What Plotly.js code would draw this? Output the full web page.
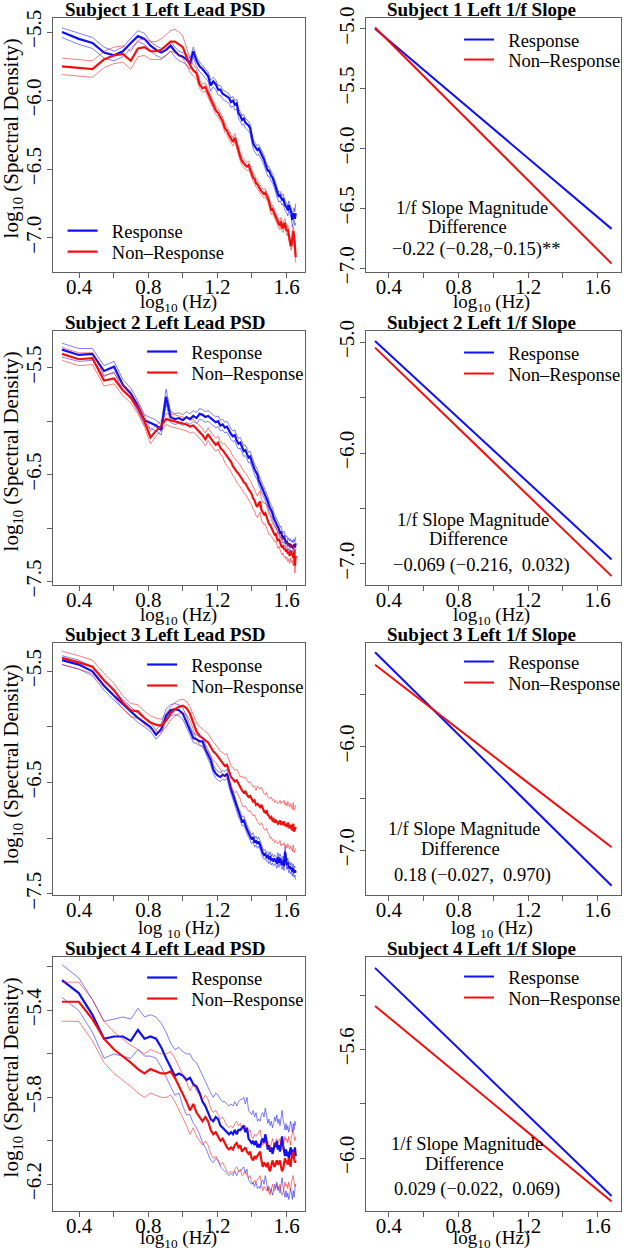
<!DOCTYPE html>
<html><head><meta charset="utf-8">
<script src="https://cdn.plot.ly/plotly-3.0.1.min.js"></script>
<style>html,body{margin:0;padding:0;background:#fff;}#chart{width:626px;height:1252px;}</style>
</head><body><div id="chart"></div>
<script>
// ---------- DATA ----------
const freqHz = [2,2.5,3,3.5,4,4.5,5,5.5,6,6.5,7,7.5,8,8.5,9,9.5,10,10.5,11,11.5,12,12.5,13,13.5,14,14.5,15,15.5,16,16.5,17,17.5,18,18.5,19,19.5,20,20.5,21,21.5,22,22.5,23,23.5,24,24.5,25,25.5,26,26.5,27,27.5,28,28.5,29,29.5,30,30.5,31,31.5,32,32.5,33,33.5,34,34.5,35,35.5,36,36.5,37,37.5,38,38.5,39,39.5,40,40.5,41,41.5,42,42.5,43,43.5,44,44.5,45];

// Subject 1
const s1RespMean = [-5.50,-5.55,-5.58,-5.65,-5.67,-5.64,-5.58,-5.53,-5.55,-5.60,
-5.63,-5.65,-5.63,-5.60,-5.64,-5.67,-5.68,-5.70,-5.73,-5.64,
-5.71,-5.75,-5.77,-5.80,-5.82,-5.89,-5.86,-5.88,-5.92,-5.92,
-5.95,-5.96,-5.97,-5.98,-6.01,-6.00,-6.03,-6.02,-6.09,-6.11,
-6.14,-6.13,-6.16,-6.17,-6.18,-6.20,-6.26,-6.31,-6.33,-6.35,
-6.36,-6.35,-6.37,-6.39,-6.42,-6.43,-6.46,-6.49,-6.51,-6.51,
-6.54,-6.55,-6.56,-6.58,-6.60,-6.63,-6.66,-6.69,-6.70,-6.69,
-6.71,-6.72,-6.71,-6.74,-6.76,-6.77,-6.78,-6.80,-6.76,-6.78,
-6.80,-6.82,-6.87,-6.85,-6.82,-6.86,-6.82];
const s1RespUp = [-5.47,-5.51,-5.54,-5.61,-5.64,-5.61,-5.55,-5.49,-5.51,-5.57,
-5.60,-5.62,-5.60,-5.57,-5.61,-5.64,-5.65,-5.67,-5.69,-5.61,
-5.68,-5.72,-5.74,-5.77,-5.79,-5.85,-5.83,-5.85,-5.89,-5.89,
-5.92,-5.93,-5.94,-5.95,-5.98,-5.97,-6.00,-5.99,-6.06,-6.08,
-6.11,-6.10,-6.13,-6.14,-6.15,-6.17,-6.23,-6.28,-6.30,-6.32,
-6.33,-6.32,-6.34,-6.36,-6.39,-6.40,-6.43,-6.46,-6.48,-6.48,
-6.51,-6.52,-6.53,-6.55,-6.57,-6.60,-6.63,-6.66,-6.67,-6.66,
-6.68,-6.69,-6.68,-6.71,-6.73,-6.74,-6.75,-6.77,-6.73,-6.75,
-6.77,-6.79,-6.83,-6.81,-6.78,-6.81,-6.75];
const s1RespLo = [-5.54,-5.59,-5.62,-5.69,-5.71,-5.68,-5.62,-5.57,-5.59,-5.64,
-5.67,-5.69,-5.67,-5.64,-5.68,-5.71,-5.72,-5.74,-5.77,-5.68,
-5.75,-5.79,-5.81,-5.84,-5.86,-5.93,-5.90,-5.92,-5.96,-5.96,
-5.99,-6.00,-6.01,-6.02,-6.05,-6.04,-6.07,-6.06,-6.13,-6.15,
-6.18,-6.17,-6.20,-6.21,-6.22,-6.24,-6.30,-6.35,-6.37,-6.39,
-6.40,-6.39,-6.41,-6.43,-6.46,-6.47,-6.50,-6.53,-6.55,-6.55,
-6.58,-6.59,-6.60,-6.62,-6.64,-6.67,-6.70,-6.73,-6.74,-6.73,
-6.75,-6.76,-6.75,-6.78,-6.80,-6.81,-6.82,-6.84,-6.80,-6.82,
-6.84,-6.86,-6.92,-6.90,-6.87,-6.91,-6.89];
const s1NonMean = [-5.75,-5.76,-5.77,-5.70,-5.67,-5.66,-5.71,-5.62,-5.61,-5.64,
-5.64,-5.63,-5.60,-5.57,-5.57,-5.59,-5.61,-5.68,-5.74,-5.78,
-5.80,-5.88,-5.91,-5.90,-5.95,-5.99,-6.03,-6.07,-6.09,-6.12,
-6.15,-6.20,-6.22,-6.25,-6.28,-6.30,-6.27,-6.32,-6.38,-6.41,
-6.44,-6.46,-6.47,-6.48,-6.47,-6.50,-6.54,-6.56,-6.57,-6.60,
-6.61,-6.63,-6.65,-6.66,-6.67,-6.68,-6.67,-6.69,-6.71,-6.73,
-6.77,-6.80,-6.79,-6.81,-6.83,-6.84,-6.86,-6.88,-6.90,-6.91,
-6.88,-6.92,-6.93,-6.90,-6.89,-6.93,-6.95,-6.94,-6.98,-7.02,
-7.05,-7.06,-7.00,-6.95,-6.98,-7.08,-7.14];
const s1NonUp = [-5.69,-5.70,-5.71,-5.64,-5.61,-5.60,-5.64,-5.56,-5.55,-5.57,
-5.57,-5.55,-5.52,-5.49,-5.48,-5.50,-5.53,-5.62,-5.69,-5.74,
-5.77,-5.85,-5.88,-5.87,-5.92,-5.96,-6.00,-6.04,-6.06,-6.09,
-6.12,-6.17,-6.19,-6.22,-6.25,-6.27,-6.24,-6.29,-6.35,-6.38,
-6.41,-6.43,-6.44,-6.45,-6.44,-6.47,-6.51,-6.53,-6.54,-6.57,
-6.58,-6.60,-6.62,-6.63,-6.64,-6.65,-6.64,-6.66,-6.68,-6.70,
-6.74,-6.77,-6.76,-6.78,-6.80,-6.81,-6.83,-6.85,-6.87,-6.88,
-6.85,-6.89,-6.90,-6.87,-6.86,-6.90,-6.92,-6.91,-6.95,-6.99,
-7.02,-7.03,-6.97,-6.92,-6.95,-7.04,-7.09];
const s1NonLo = [-5.81,-5.82,-5.83,-5.76,-5.73,-5.72,-5.77,-5.68,-5.67,-5.70,
-5.70,-5.70,-5.67,-5.64,-5.65,-5.67,-5.69,-5.74,-5.79,-5.82,
-5.84,-5.91,-5.94,-5.93,-5.98,-6.02,-6.06,-6.10,-6.12,-6.15,
-6.18,-6.23,-6.25,-6.28,-6.31,-6.33,-6.30,-6.35,-6.41,-6.44,
-6.47,-6.49,-6.50,-6.51,-6.50,-6.53,-6.57,-6.59,-6.60,-6.63,
-6.64,-6.66,-6.68,-6.69,-6.70,-6.71,-6.70,-6.72,-6.74,-6.76,
-6.80,-6.83,-6.82,-6.84,-6.86,-6.87,-6.89,-6.91,-6.93,-6.94,
-6.91,-6.95,-6.96,-6.93,-6.92,-6.96,-6.98,-6.97,-7.01,-7.05,
-7.08,-7.09,-7.03,-6.98,-7.01,-7.12,-7.18];

// Subject 2
const s2RespMean = [-5.33,-5.38,-5.37,-5.53,-5.49,-5.66,-5.74,-5.86,-5.99,-6.02,
-6.04,-6.08,-5.77,-5.96,-5.98,-5.97,-5.99,-5.96,-5.98,-5.95,
-5.97,-5.93,-5.94,-5.96,-5.95,-5.97,-5.99,-6.01,-6.00,-6.04,
-6.03,-6.06,-6.05,-6.09,-6.12,-6.14,-6.13,-6.18,-6.21,-6.20,
-6.25,-6.28,-6.27,-6.31,-6.34,-6.33,-6.38,-6.41,-6.45,-6.48,
-6.50,-6.55,-6.58,-6.60,-6.64,-6.66,-6.70,-6.73,-6.75,-6.79,
-6.81,-6.84,-6.86,-6.90,-6.92,-6.95,-6.97,-6.98,-7.01,-7.04,
-7.03,-7.07,-7.09,-7.08,-7.11,-7.13,-7.12,-7.16,-7.14,-7.17,
-7.15,-7.18,-7.16,-7.19,-7.15,-7.18,-7.14];
const s2RespUp = [-5.27,-5.32,-5.32,-5.48,-5.44,-5.61,-5.69,-5.81,-5.94,-5.97,
-5.99,-6.03,-5.70,-5.91,-5.93,-5.92,-5.94,-5.91,-5.93,-5.90,
-5.92,-5.88,-5.89,-5.91,-5.90,-5.92,-5.94,-5.96,-5.95,-5.99,
-5.98,-6.01,-6.00,-6.04,-6.07,-6.09,-6.08,-6.13,-6.16,-6.15,
-6.20,-6.23,-6.22,-6.26,-6.29,-6.28,-6.33,-6.36,-6.40,-6.43,
-6.45,-6.50,-6.53,-6.55,-6.59,-6.61,-6.65,-6.68,-6.70,-6.74,
-6.76,-6.79,-6.81,-6.85,-6.87,-6.90,-6.92,-6.93,-6.96,-6.99,
-6.98,-7.02,-7.04,-7.03,-7.06,-7.08,-7.07,-7.11,-7.09,-7.12,
-7.10,-7.13,-7.11,-7.14,-7.10,-7.13,-7.08];
const s2RespLo = [-5.40,-5.44,-5.43,-5.58,-5.54,-5.71,-5.79,-5.91,-6.04,-6.07,
-6.09,-6.13,-5.84,-6.01,-6.03,-6.02,-6.04,-6.01,-6.03,-6.00,
-6.02,-5.98,-5.99,-6.01,-6.00,-6.02,-6.04,-6.06,-6.05,-6.09,
-6.08,-6.11,-6.10,-6.14,-6.17,-6.19,-6.18,-6.23,-6.26,-6.25,
-6.30,-6.33,-6.32,-6.36,-6.39,-6.38,-6.43,-6.46,-6.50,-6.53,
-6.55,-6.60,-6.63,-6.65,-6.69,-6.71,-6.75,-6.78,-6.80,-6.84,
-6.86,-6.89,-6.91,-6.95,-6.97,-7.00,-7.02,-7.03,-7.06,-7.09,
-7.08,-7.12,-7.14,-7.13,-7.16,-7.18,-7.17,-7.21,-7.19,-7.22,
-7.20,-7.23,-7.21,-7.24,-7.20,-7.23,-7.20];
const s2NonMean = [-5.37,-5.42,-5.41,-5.62,-5.60,-5.71,-5.78,-5.88,-6.00,-6.15,
-6.09,-6.04,-5.98,-5.99,-6.00,-6.01,-6.02,-6.03,-6.05,-6.04,
-6.07,-6.10,-6.13,-6.17,-6.12,-6.16,-6.19,-6.22,-6.20,-6.25,
-6.27,-6.30,-6.33,-6.35,-6.38,-6.42,-6.44,-6.47,-6.49,-6.51,
-6.54,-6.57,-6.58,-6.61,-6.63,-6.65,-6.68,-6.72,-6.74,-6.78,
-6.80,-6.77,-6.75,-6.83,-6.85,-6.87,-6.86,-6.90,-6.93,-6.96,
-6.97,-7.00,-7.02,-7.04,-7.06,-7.05,-7.09,-7.12,-7.10,-7.14,
-7.16,-7.18,-7.16,-7.20,-7.19,-7.22,-7.20,-7.24,-7.22,-7.26,
-7.21,-7.25,-7.23,-7.28,-7.22,-7.35,-7.26];
const s2NonUp = [-5.31,-5.36,-5.36,-5.57,-5.55,-5.66,-5.73,-5.83,-5.95,-6.09,
-6.04,-5.99,-5.93,-5.93,-5.94,-5.95,-5.96,-5.97,-5.99,-5.98,
-6.01,-6.04,-6.07,-6.11,-6.06,-6.10,-6.13,-6.16,-6.14,-6.19,
-6.21,-6.21,-6.24,-6.26,-6.29,-6.33,-6.35,-6.37,-6.39,-6.41,
-6.44,-6.47,-6.48,-6.51,-6.53,-6.55,-6.58,-6.62,-6.64,-6.68,
-6.70,-6.67,-6.65,-6.73,-6.75,-6.77,-6.76,-6.80,-6.83,-6.86,
-6.88,-6.93,-6.95,-6.97,-6.99,-6.98,-7.02,-7.05,-7.03,-7.07,
-7.09,-7.11,-7.09,-7.13,-7.12,-7.15,-7.13,-7.17,-7.15,-7.19,
-7.14,-7.18,-7.16,-7.21,-7.15,-7.27,-7.19];
const s2NonLo = [-5.43,-5.48,-5.47,-5.67,-5.65,-5.76,-5.83,-5.93,-6.05,-6.21,
-6.14,-6.09,-6.03,-6.05,-6.06,-6.07,-6.08,-6.09,-6.11,-6.10,
-6.13,-6.16,-6.19,-6.23,-6.18,-6.22,-6.25,-6.28,-6.26,-6.31,
-6.33,-6.39,-6.42,-6.44,-6.47,-6.51,-6.53,-6.57,-6.59,-6.61,
-6.64,-6.67,-6.68,-6.71,-6.73,-6.75,-6.78,-6.82,-6.84,-6.88,
-6.90,-6.87,-6.85,-6.93,-6.95,-6.97,-6.96,-7.00,-7.03,-7.06,
-7.06,-7.07,-7.09,-7.11,-7.13,-7.12,-7.16,-7.19,-7.17,-7.21,
-7.23,-7.25,-7.23,-7.27,-7.26,-7.29,-7.27,-7.31,-7.29,-7.33,
-7.28,-7.32,-7.30,-7.35,-7.29,-7.42,-7.33];

// Subject 3
const s3RespMean = [-5.40,-5.44,-5.50,-5.63,-5.72,-5.79,-5.86,-5.92,-5.96,-6.00,
-6.07,-6.02,-5.90,-5.85,-5.84,-5.85,-5.88,-5.95,-6.03,-6.10,
-6.11,-6.13,-6.13,-6.20,-6.25,-6.30,-6.38,-6.42,-6.44,-6.45,
-6.43,-6.44,-6.42,-6.50,-6.56,-6.61,-6.66,-6.72,-6.77,-6.80,
-6.85,-6.84,-6.89,-6.92,-6.95,-6.99,-7.01,-6.99,-7.04,-7.02,
-7.05,-7.03,-7.07,-7.10,-7.13,-7.15,-7.14,-7.17,-7.16,-7.19,
-7.16,-7.20,-7.18,-7.21,-7.19,-7.20,-7.23,-7.17,-7.22,-7.18,
-7.21,-7.24,-7.20,-7.25,-7.12,-7.20,-7.24,-7.22,-7.27,-7.25,
-7.28,-7.26,-7.30,-7.27,-7.31,-7.29,-7.31];
const s3RespUp = [-5.36,-5.40,-5.46,-5.59,-5.68,-5.75,-5.82,-5.88,-5.92,-5.96,
-6.03,-5.97,-5.84,-5.80,-5.79,-5.80,-5.83,-5.90,-5.99,-6.06,
-6.07,-6.09,-6.09,-6.16,-6.21,-6.26,-6.34,-6.38,-6.40,-6.41,
-6.39,-6.40,-6.38,-6.46,-6.52,-6.57,-6.62,-6.68,-6.73,-6.76,
-6.81,-6.80,-6.85,-6.88,-6.91,-6.95,-6.97,-6.95,-7.00,-6.98,
-7.01,-6.99,-7.03,-7.06,-7.09,-7.11,-7.10,-7.13,-7.12,-7.15,
-7.12,-7.16,-7.14,-7.17,-7.15,-7.16,-7.19,-7.13,-7.18,-7.14,
-7.17,-7.20,-7.16,-7.21,-7.08,-7.16,-7.20,-7.18,-7.23,-7.21,
-7.24,-7.22,-7.26,-7.23,-7.27,-7.25,-7.26];
const s3RespLo = [-5.44,-5.48,-5.54,-5.67,-5.76,-5.83,-5.90,-5.96,-6.00,-6.04,
-6.11,-6.06,-5.95,-5.90,-5.89,-5.90,-5.93,-6.00,-6.07,-6.14,
-6.15,-6.17,-6.17,-6.24,-6.29,-6.34,-6.42,-6.46,-6.48,-6.49,
-6.47,-6.48,-6.46,-6.54,-6.60,-6.65,-6.70,-6.76,-6.81,-6.84,
-6.89,-6.88,-6.93,-6.96,-6.99,-7.03,-7.05,-7.03,-7.08,-7.06,
-7.09,-7.07,-7.11,-7.14,-7.17,-7.19,-7.18,-7.21,-7.20,-7.23,
-7.20,-7.24,-7.22,-7.25,-7.23,-7.24,-7.27,-7.21,-7.26,-7.22,
-7.25,-7.28,-7.24,-7.29,-7.16,-7.24,-7.28,-7.26,-7.31,-7.29,
-7.32,-7.30,-7.34,-7.31,-7.35,-7.33,-7.37];
const s3NonMean = [-5.38,-5.42,-5.46,-5.58,-5.67,-5.78,-5.85,-5.86,-5.92,-5.96,
-5.98,-5.99,-5.94,-5.88,-5.84,-5.82,-5.81,-5.83,-5.88,-5.96,
-6.04,-6.08,-6.10,-6.12,-6.14,-6.18,-6.22,-6.24,-6.27,-6.30,
-6.33,-6.35,-6.34,-6.40,-6.45,-6.47,-6.49,-6.48,-6.51,-6.55,
-6.57,-6.59,-6.58,-6.61,-6.63,-6.62,-6.65,-6.67,-6.66,-6.70,
-6.69,-6.71,-6.72,-6.70,-6.74,-6.76,-6.77,-6.75,-6.79,-6.80,
-6.82,-6.81,-6.84,-6.83,-6.86,-6.84,-6.85,-6.87,-6.86,-6.84,
-6.88,-6.86,-6.87,-6.85,-6.89,-6.87,-6.90,-6.86,-6.89,-6.91,
-6.88,-6.90,-6.93,-6.87,-6.94,-6.92,-6.90];
const s3NonUp = [-5.32,-5.36,-5.40,-5.52,-5.61,-5.72,-5.79,-5.80,-5.86,-5.90,
-5.92,-5.93,-5.88,-5.82,-5.78,-5.76,-5.75,-5.77,-5.82,-5.90,
-5.96,-6.00,-6.02,-6.04,-6.06,-6.10,-6.14,-6.16,-6.19,-6.22,
-6.23,-6.25,-6.24,-6.30,-6.35,-6.37,-6.39,-6.38,-6.41,-6.45,
-6.44,-6.46,-6.45,-6.48,-6.50,-6.49,-6.52,-6.54,-6.53,-6.57,
-6.53,-6.55,-6.56,-6.54,-6.58,-6.60,-6.61,-6.59,-6.63,-6.64,
-6.64,-6.63,-6.66,-6.65,-6.68,-6.66,-6.67,-6.69,-6.68,-6.66,
-6.69,-6.67,-6.68,-6.66,-6.70,-6.68,-6.71,-6.67,-6.70,-6.72,
-6.69,-6.71,-6.74,-6.68,-6.75,-6.73,-6.70];
const s3NonLo = [-5.44,-5.48,-5.52,-5.64,-5.73,-5.84,-5.91,-5.92,-5.98,-6.02,
-6.04,-6.05,-6.00,-5.94,-5.90,-5.88,-5.87,-5.89,-5.94,-6.02,
-6.12,-6.16,-6.18,-6.20,-6.22,-6.26,-6.30,-6.32,-6.35,-6.38,
-6.43,-6.45,-6.44,-6.50,-6.55,-6.57,-6.59,-6.58,-6.61,-6.65,
-6.70,-6.72,-6.71,-6.74,-6.76,-6.75,-6.78,-6.80,-6.79,-6.83,
-6.85,-6.87,-6.88,-6.86,-6.90,-6.92,-6.93,-6.91,-6.95,-6.96,
-7.00,-6.99,-7.02,-7.01,-7.04,-7.02,-7.03,-7.05,-7.04,-7.02,
-7.07,-7.05,-7.06,-7.04,-7.08,-7.06,-7.09,-7.05,-7.08,-7.10,
-7.07,-7.09,-7.12,-7.06,-7.13,-7.11,-7.09];

// Subject 4
const s4RespMean = [-5.26,-5.32,-5.42,-5.53,-5.52,-5.52,-5.54,-5.49,-5.53,-5.52,
-5.53,-5.57,-5.62,-5.66,-5.70,-5.69,-5.70,-5.72,-5.71,-5.74,
-5.75,-5.78,-5.82,-5.84,-5.87,-5.90,-5.91,-5.89,-5.90,-5.93,
-5.94,-5.95,-5.96,-5.97,-5.96,-5.97,-5.95,-5.97,-5.95,-5.95,
-5.94,-5.93,-5.96,-5.94,-5.99,-6.00,-6.01,-6.00,-6.02,-6.00,
-6.03,-6.02,-6.03,-6.00,-5.99,-6.01,-5.97,-6.00,-6.04,-6.02,
-6.05,-6.03,-6.06,-6.04,-6.01,-6.03,-6.00,-6.04,-6.02,-6.05,
-6.00,-5.98,-6.02,-6.06,-6.07,-6.04,-6.07,-6.05,-6.08,-6.06,
-6.03,-6.05,-6.08,-6.04,-6.07,-6.03,-6.07];
const s4RespUp = [-5.19,-5.25,-5.35,-5.45,-5.44,-5.43,-5.44,-5.39,-5.43,-5.42,
-5.43,-5.46,-5.50,-5.55,-5.58,-5.57,-5.59,-5.60,-5.60,-5.63,
-5.64,-5.67,-5.70,-5.73,-5.76,-5.78,-5.80,-5.78,-5.79,-5.81,
-5.82,-5.82,-5.83,-5.84,-5.83,-5.84,-5.82,-5.84,-5.82,-5.81,
-5.81,-5.80,-5.83,-5.80,-5.86,-5.87,-5.88,-5.86,-5.89,-5.87,
-5.91,-5.90,-5.91,-5.88,-5.87,-5.89,-5.85,-5.88,-5.92,-5.90,
-5.93,-5.91,-5.94,-5.92,-5.89,-5.91,-5.88,-5.92,-5.90,-5.93,
-5.88,-5.86,-5.90,-5.94,-5.95,-5.92,-5.95,-5.93,-5.96,-5.94,
-5.91,-5.93,-5.96,-5.92,-5.95,-5.91,-5.93];
const s4RespLo = [-5.34,-5.40,-5.50,-5.62,-5.60,-5.61,-5.62,-5.58,-5.61,-5.61,
-5.62,-5.66,-5.71,-5.75,-5.79,-5.78,-5.84,-5.88,-5.88,-5.92,
-5.94,-5.97,-6.01,-6.03,-6.06,-6.09,-6.10,-6.08,-6.09,-6.12,
-6.13,-6.14,-6.15,-6.16,-6.15,-6.16,-6.14,-6.16,-6.14,-6.14,
-6.13,-6.12,-6.15,-6.13,-6.18,-6.19,-6.20,-6.19,-6.21,-6.19,
-6.22,-6.21,-6.22,-6.19,-6.18,-6.20,-6.16,-6.19,-6.23,-6.21,
-6.24,-6.22,-6.25,-6.23,-6.20,-6.22,-6.19,-6.23,-6.21,-6.24,
-6.19,-6.17,-6.21,-6.25,-6.26,-6.23,-6.26,-6.24,-6.27,-6.25,
-6.22,-6.24,-6.27,-6.23,-6.26,-6.22,-6.20];
const s4NonMean = [-5.36,-5.36,-5.44,-5.53,-5.58,-5.61,-5.64,-5.67,-5.69,-5.67,
-5.68,-5.69,-5.69,-5.68,-5.71,-5.75,-5.78,-5.82,-5.86,-5.83,
-5.87,-5.89,-5.91,-5.89,-5.91,-5.95,-5.97,-5.96,-5.98,-6.00,
-5.99,-6.01,-6.03,-6.04,-6.03,-6.04,-6.02,-6.01,-6.03,-6.02,
-6.05,-6.04,-6.03,-6.05,-6.06,-6.05,-6.08,-6.09,-6.07,-6.08,
-6.07,-6.06,-6.05,-6.09,-6.12,-6.10,-6.11,-6.12,-6.10,-6.13,
-6.14,-6.11,-6.09,-6.11,-6.12,-6.10,-6.09,-6.11,-6.10,-6.09,
-6.12,-6.14,-6.13,-6.10,-6.08,-6.10,-6.09,-6.11,-6.08,-6.10,
-6.12,-6.08,-6.06,-6.05,-6.08,-6.10,-6.09];
const s4NonUp = [-5.27,-5.27,-5.35,-5.45,-5.50,-5.53,-5.56,-5.58,-5.60,-5.58,
-5.59,-5.60,-5.60,-5.59,-5.62,-5.66,-5.69,-5.73,-5.77,-5.74,
-5.77,-5.79,-5.81,-5.79,-5.81,-5.85,-5.87,-5.86,-5.88,-5.90,
-5.89,-5.91,-5.93,-5.94,-5.93,-5.94,-5.92,-5.91,-5.93,-5.92,
-5.95,-5.94,-5.93,-5.95,-5.96,-5.95,-5.98,-5.99,-5.97,-5.98,
-5.97,-5.96,-5.95,-5.99,-6.02,-6.00,-6.01,-6.02,-6.00,-6.03,
-6.04,-6.01,-5.99,-6.01,-6.02,-6.00,-5.99,-6.01,-6.00,-5.99,
-6.02,-6.04,-6.03,-6.00,-5.98,-6.00,-5.99,-6.01,-5.98,-6.00,
-6.02,-5.98,-5.96,-5.95,-5.98,-6.00,-5.98];
const s4NonLo = [-5.45,-5.45,-5.54,-5.64,-5.69,-5.72,-5.75,-5.78,-5.80,-5.78,
-5.79,-5.80,-5.80,-5.79,-5.82,-5.86,-5.89,-5.93,-5.97,-5.94,
-5.98,-6.00,-6.02,-6.00,-6.02,-6.06,-6.08,-6.07,-6.09,-6.11,
-6.10,-6.12,-6.14,-6.15,-6.14,-6.15,-6.13,-6.12,-6.14,-6.13,
-6.16,-6.15,-6.14,-6.16,-6.17,-6.16,-6.19,-6.20,-6.18,-6.19,
-6.18,-6.17,-6.16,-6.20,-6.23,-6.21,-6.22,-6.23,-6.21,-6.24,
-6.25,-6.22,-6.20,-6.22,-6.23,-6.21,-6.20,-6.22,-6.21,-6.20,
-6.23,-6.25,-6.24,-6.21,-6.19,-6.21,-6.20,-6.22,-6.19,-6.21,
-6.23,-6.19,-6.17,-6.16,-6.19,-6.21,-6.20];

// 1/f slope fits (log10 Hz endpoints and fitted log10 PSD)
const slopeX = [0.32, 1.68];
const s1RespFit = [-5.00, -6.67], s1NonFit = [-4.99, -6.96];
const s2RespFit = [-4.99, -6.96], s2NonFit = [-5.05, -7.11];
const s3RespFit = [-5.09, -7.34], s3NonFit = [-5.21, -6.97];
const s4RespFit = [-5.30, -6.14], s4NonFit = [-5.44, -6.16];

const psdTitles = ['Subject 1 Left Lead PSD','Subject 2 Left Lead PSD','Subject 3 Left Lead PSD','Subject 4 Left Lead PSD'];
const slopeTitles = ['Subject 1 Left 1/f Slope','Subject 2 Left 1/f Slope','Subject 3 Left 1/f Slope','Subject 4 Left 1/f Slope'];
const seriesNames = ['Response','Non\u2013Response'];
const diffHeader = ['1/f Slope Magnitude','Difference'];
const diffValues = ['\u22120.22 (\u22120.28,\u22120.15)**','\u22120.069 (\u22120.216,\u00a0 0.032)','0.18 (\u22120.027,\u00a0 0.970)','0.029 (\u22120.022,\u00a0 0.069)'];
const xTickVals = [0.4,0.6,0.8,1.0,1.2,1.4,1.6];
const xTickText = ['0.4',' ','0.8',' ','1.2',' ','1.6'];

// ---------- LAYOUT HELPERS ----------
const W = 626, H = 1252;
const SERIF = 'Liberation Serif, DejaVu Serif, serif';
const BLUE = '#1010f0', RED = '#f01010';
const BLUE_CI = 'rgba(16,16,240,0.6)', RED_CI = 'rgba(240,16,16,0.6)';
const px = v => v / W, py = v => 1 - v / H;
const colX = [[53,307],[368,625]];
const rowY = [[18,272],[331,585],[643,895],[957,1211]];
const rowBase = [0,313,626,939];
const xs = freqHz.map(f => Math.log10(f));

const psdData = [
  [s1RespMean,s1RespUp,s1RespLo,s1NonMean,s1NonUp,s1NonLo],
  [s2RespMean,s2RespUp,s2RespLo,s2NonMean,s2NonUp,s2NonLo],
  [s3RespMean,s3RespUp,s3RespLo,s3NonMean,s3NonUp,s3NonLo],
  [s4RespMean,s4RespUp,s4RespLo,s4NonMean,s4NonUp,s4NonLo]
];
const fitData = [[s1RespFit,s1NonFit],[s2RespFit,s2NonFit],[s3RespFit,s3NonFit],[s4RespFit,s4NonFit]];

const psdYRange = [[-7.248,-5.398],[-7.531,-5.156],[-7.51,-5.246],[-6.323,-5.154]];
const fitYRange = [[-7.03,-4.91],[-7.19,-4.90],[-7.43,-5.00],[-6.195,-5.26]];
const psdYTicks = [
  {v:[-5.5,-6,-6.5,-7], t:['\u22125.5','\u22126.0','\u22126.5','\u22127.0']},
  {v:[-5.5,-6,-6.5,-7,-7.5], t:['\u22125.5',' ','\u22126.5',' ','\u22127.5']},
  {v:[-5.5,-6,-6.5,-7,-7.5], t:['\u22125.5',' ','\u22126.5',' ','\u22127.5']},
  {v:[-5.2,-5.4,-5.6,-5.8,-6.0,-6.2], t:[' ','\u22125.4',' ','\u22125.8',' ','\u22126.2']}
];
const fitYTicks = [
  {v:[-5,-5.5,-6,-6.5,-7], t:['\u22125.0','\u22125.5','\u22126.0','\u22126.5','\u22127.0']},
  {v:[-5,-5.5,-6,-6.5,-7], t:['\u22125.0',' ','\u22126.0',' ','\u22127.0']},
  {v:[-5.5,-6,-6.5,-7], t:[' ','\u22126.0',' ','\u22127.0']},
  {v:[-5.4,-5.6,-5.8,-6.0], t:[' ','\u22125.6',' ','\u22126.0']}
];

const layout = {
  width: W, height: H, margin:{l:0,r:0,t:0,b:0},
  paper_bgcolor:'#fff', plot_bgcolor:'#fff',
  font:{family:SERIF, color:'#000'},
  annotations:[], showlegend:true
};
const traces = [];
let legendCount = 0;
function newLegend(xLeft, yCenter){
  legendCount++;
  const name = legendCount === 1 ? 'legend' : 'legend' + legendCount;
  layout[name] = {x:px(xLeft), xanchor:'left', y:py(yCenter), yanchor:'middle',
    bgcolor:'rgba(0,0,0,0)', borderwidth:0, itemwidth:30, tracegroupgap:0,
    font:{family:SERIF, size:18.5, color:'#000'}};
  return name;
}
function ann(text, x, y, size, extra){
  layout.annotations.push(Object.assign({text:text, x:px(x), y:py(y), xref:'paper', yref:'paper',
    xanchor:'center', yanchor:'middle', showarrow:false, font:{family:SERIF, size:size, color:'#000'}}, extra||{}));
}
function axes(k, col, row, xr, yr, yt){
  const sx = k === 1 ? '' : String(k);
  const common = {showline:true, mirror:true, linecolor:'#606060', linewidth:1, ticks:'outside', ticklen:5,
    tickcolor:'#606060', tickwidth:1, showgrid:false, zeroline:false, fixedrange:true,
    tickfont:{family:SERIF, size:21, color:'#000'}, tickmode:'array'};
  layout['xaxis'+sx] = Object.assign({}, common, {domain:[px(colX[col][0]), px(colX[col][1])], anchor:'y'+sx,
    range:xr, tickvals:xTickVals, ticktext:xTickText, ticklabelstandoff:-9});
  layout['yaxis'+sx] = Object.assign({}, common, {domain:[py(rowY[row][1]), py(rowY[row][0])], anchor:'x'+sx,
    range:yr, tickvals:yt.v, ticktext:yt.t, tickangle:-90, ticklabelstandoff:-3});
  return {x:'x'+sx, y:'y'+sx};
}

for (let r = 0; r < 4; r++) {
  const base = rowBase[r];
  const xTitle = r === 2 ? 'log <sub>10</sub> (Hz)' : 'log<sub>10</sub> (Hz)';
  const xTitleY = base + (r === 3 ? 300 : 303);
  // ---- PSD panel ----
  const a = axes(2*r+1, 0, r, [0.247,1.707], psdYRange[r], psdYTicks[r]);
  const d = psdData[r];
  const legPos = r === 0 ? [[63,231],[63,252]] : [[143,base+39],[143,base+60]];
  const lr = newLegend(legPos[0][0], legPos[0][1]);
  const ln = newLegend(legPos[1][0], legPos[1][1]);
  traces.push({x:xs, y:d[0], xaxis:a.x, yaxis:a.y, mode:'lines', line:{color:BLUE,width:2.2}, name:'\u00a0\u00a0'+seriesNames[0], legend:lr});
  traces.push({x:xs, y:d[1], xaxis:a.x, yaxis:a.y, mode:'lines', line:{color:BLUE_CI,width:0.9}, showlegend:false});
  traces.push({x:xs, y:d[2], xaxis:a.x, yaxis:a.y, mode:'lines', line:{color:BLUE_CI,width:0.9}, showlegend:false});
  traces.push({x:xs, y:d[3], xaxis:a.x, yaxis:a.y, mode:'lines', line:{color:RED,width:2.2}, name:'\u00a0\u00a0'+seriesNames[1], legend:ln});
  traces.push({x:xs, y:d[4], xaxis:a.x, yaxis:a.y, mode:'lines', line:{color:RED_CI,width:0.9}, showlegend:false});
  traces.push({x:xs, y:d[5], xaxis:a.x, yaxis:a.y, mode:'lines', line:{color:RED_CI,width:0.9}, showlegend:false});
  ann('<b>'+psdTitles[r]+'</b>', 167, base + (r===2 ? 8 : 9.5), 19);
  ann(xTitle, 180, xTitleY, 19);
  ann('log<sub>10</sub> (Spectral Density)', 12.5, base + 138, 21, {textangle:-90});

  // ---- slope panel ----
  const b = axes(2*r+2, 1, r, [0.266,1.734], fitYRange[r], fitYTicks[r]);
  const f = fitData[r];
  const ry = [[40,60],[40,61],[36,57],[38,59]][r];
  const fr = newLegend(462, base + ry[0]);
  const fn = newLegend(462, base + ry[1]);
  traces.push({x:slopeX, y:f[0], xaxis:b.x, yaxis:b.y, mode:'lines', line:{color:BLUE,width:2}, name:'\u00a0\u00a0'+seriesNames[0], legend:fr});
  traces.push({x:slopeX, y:f[1], xaxis:b.x, yaxis:b.y, mode:'lines', line:{color:RED,width:2}, name:'\u00a0\u00a0'+seriesNames[1], legend:fn});
  ann('<b>'+slopeTitles[r]+'</b>', 485, base + (r===2 ? 8 : 9.5), 19);
  ann(xTitle, 495, xTitleY, 19);
  const tx = [[475,471,480],[476,472,485],[467,463,476],[470,467,480]][r];
  const ty = [[208,227,250],[207,226,252],[203,223,249],[205,225,250]][r];
  ann(diffHeader[0], tx[0], base + ty[0], 18.5);
  ann(diffHeader[1], tx[1], base + ty[1], 18.5);
  ann(diffValues[r], tx[2], base + ty[2], 18.5);
}

Plotly.newPlot('chart', traces, layout, {displayModeBar:false, staticPlot:true});
</script>
</body></html>
